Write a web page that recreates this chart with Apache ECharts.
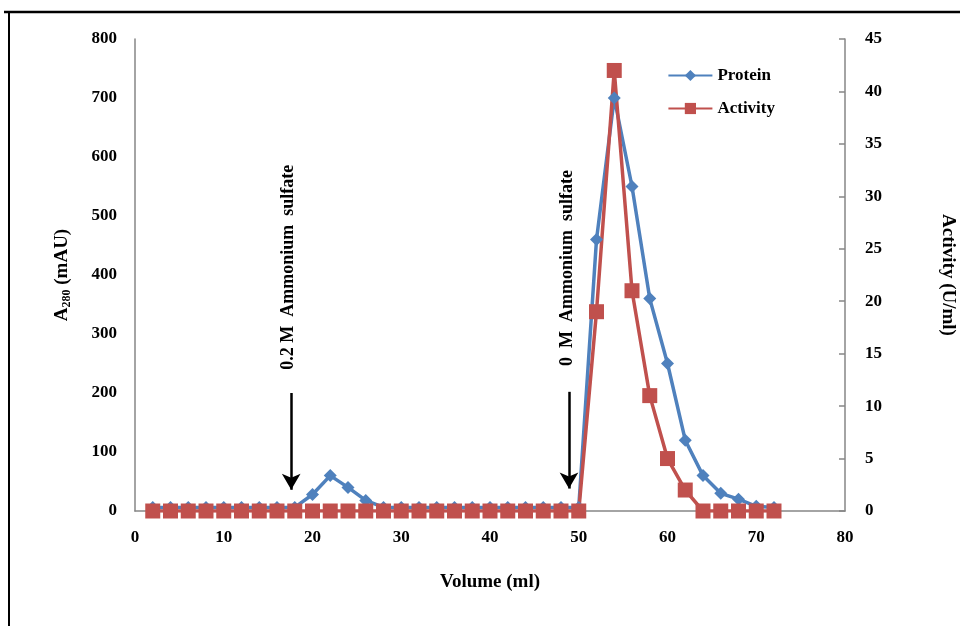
<!DOCTYPE html>
<html>
<head>
<meta charset="utf-8">
<script src="https://cdn.jsdelivr.net/npm/echarts@6/dist/echarts.min.js"></script>
<style>
html, body { margin: 0; padding: 0; background: #fff; }
#chart { width: 960px; height: 626px; }
</style>
</head>
<body>
<div id="chart"></div>
<script>
// elution profile
var volume = [2, 4, 6, 8, 10, 12, 14, 16, 18, 20, 22, 24, 26, 28, 30, 32, 34, 36,
              38, 40, 42, 44, 46, 48, 50, 52, 54, 56, 58, 60, 62, 64, 66, 68, 70, 72];
var protein = [6, 6, 6, 6, 6, 6, 6, 6, 6, 28, 60, 40, 18, 6, 6, 6, 6, 6,
               6, 6, 6, 6, 6, 6, 6, 460, 700, 550, 360, 250, 120, 60, 30, 20, 8, 6];
var activity = [0, 0, 0, 0, 0, 0, 0, 0, 0, 0, 0, 0, 0, 0, 0, 0, 0, 0,
                0, 0, 0, 0, 0, 0, 0, 19, 42, 21, 11, 5, 2, 0, 0, 0, 0, 0];
var seriesNames = ['Protein', 'Activity'];
var arrows = [
  { x: 17.6, from: 200, to: 36, text: '0.2 M  Ammonium  sulfate', textX: 17.3, textY: 413 },
  { x: 48.9, from: 202, to: 38, text: '0  M  Ammonium  sulfate', textX: 48.7, textY: 412 }
];

var font = 'Liberation Serif';
var myChart = echarts.init(document.getElementById('chart'));

function pairs(ys) {
  return volume.map(function (v, i) { return [v, ys[i]]; });
}

var markLines = arrows.map(function (a) {
  return [{ coord: [a.x, a.from], symbol: 'none' }, { coord: [a.x, a.to], symbol: 'arrow' }];
});
var markPoints = arrows.map(function (a) {
  return { coord: [a.textX, a.textY], name: a.text, value: 0 };
});

option = {
  animation: false,
  textStyle: { fontFamily: font },
  grid: { left: 135, right: 115, top: 39, bottom: 115, containLabel: false, outerBoundsMode: 'none' },
  legend: {
    right: 180, top: 62, orient: 'vertical', itemGap: 16,
    itemWidth: 44, itemHeight: 14,
    textStyle: { fontFamily: font, fontWeight: 'bold', fontSize: 17, color: '#000' },
    data: seriesNames
  },
  graphic: [
    { type: 'line', shape: { x1: 4, y1: 12, x2: 960, y2: 12 }, style: { stroke: '#000', lineWidth: 2.5 } },
    { type: 'line', shape: { x1: 9, y1: 12, x2: 9, y2: 626 }, style: { stroke: '#000', lineWidth: 2 } }
  ],
  xAxis: {
    type: 'value', min: 0, max: 80, interval: 10,
    name: 'Volume (ml)', nameLocation: 'middle', nameGap: 62,
    nameTextStyle: { fontFamily: font, fontWeight: 'bold', fontSize: 19, color: '#000' },
    axisLine: { lineStyle: { color: '#868686', width: 1.5 } },
    axisTick: { show: false },
    splitLine: { show: false },
    axisLabel: { fontFamily: font, fontWeight: 'bold', fontSize: 17, color: '#000', margin: 18 }
  },
  yAxis: [
    {
      type: 'value', min: 0, max: 800, interval: 100,
      name: '{a|A}{s|280}{a| (mAU)}', nameLocation: 'middle', nameGap: 62, nameRotate: 90,
      nameTextStyle: {
        rich: {
          a: { fontFamily: font, fontWeight: 'bold', fontSize: 19, color: '#000' },
          s: { fontFamily: font, fontWeight: 'bold', fontSize: 12, color: '#000', padding: [10, 0, 0, 0] }
        }
      },
      axisLine: { show: true, lineStyle: { color: '#868686', width: 1.5 } },
      axisTick: { show: false },
      splitLine: { show: false },
      axisLabel: { fontFamily: font, fontWeight: 'bold', fontSize: 17, color: '#000', margin: 18 }
    },
    {
      type: 'value', min: 0, max: 45, interval: 5, position: 'right',
      name: 'Activity (U/ml)', nameLocation: 'middle', nameGap: 93, nameRotate: -90,
      nameTextStyle: { fontFamily: font, fontWeight: 'bold', fontSize: 19, color: '#000' },
      axisLine: { show: true, lineStyle: { color: '#868686', width: 1.5 } },
      axisTick: { show: true, inside: true, length: 6, lineStyle: { color: '#868686', width: 1.5 } },
      splitLine: { show: false },
      axisLabel: { fontFamily: font, fontWeight: 'bold', fontSize: 17, color: '#000', margin: 20 }
    }
  ],
  series: [
    {
      name: seriesNames[0], type: 'line', yAxisIndex: 0,
      data: pairs(protein),
      symbol: 'diamond', symbolSize: 13,
      lineStyle: { color: '#4F81BD', width: 3.5 },
      itemStyle: { color: '#4F81BD' },
      markLine: {
        silent: true, symbolSize: [14, 16],
        lineStyle: { color: '#000', width: 2.5, type: 'solid' },
        label: { show: false },
        data: markLines
      },
      markPoint: {
        symbol: 'circle', symbolSize: 1,
        itemStyle: { color: 'rgba(0,0,0,0)' },
        label: {
          show: true, rotate: 90, position: 'inside', formatter: '{b}',
          fontFamily: font, fontWeight: 'bold', fontSize: 18, color: '#000'
        },
        data: markPoints
      }
    },
    {
      name: seriesNames[1], type: 'line', yAxisIndex: 1,
      data: pairs(activity),
      symbol: 'rect', symbolSize: 15,
      lineStyle: { color: '#C0504D', width: 3.5 },
      itemStyle: { color: '#C0504D' }
    }
  ]
};
myChart.setOption(option);
</script>
</body>
</html>
